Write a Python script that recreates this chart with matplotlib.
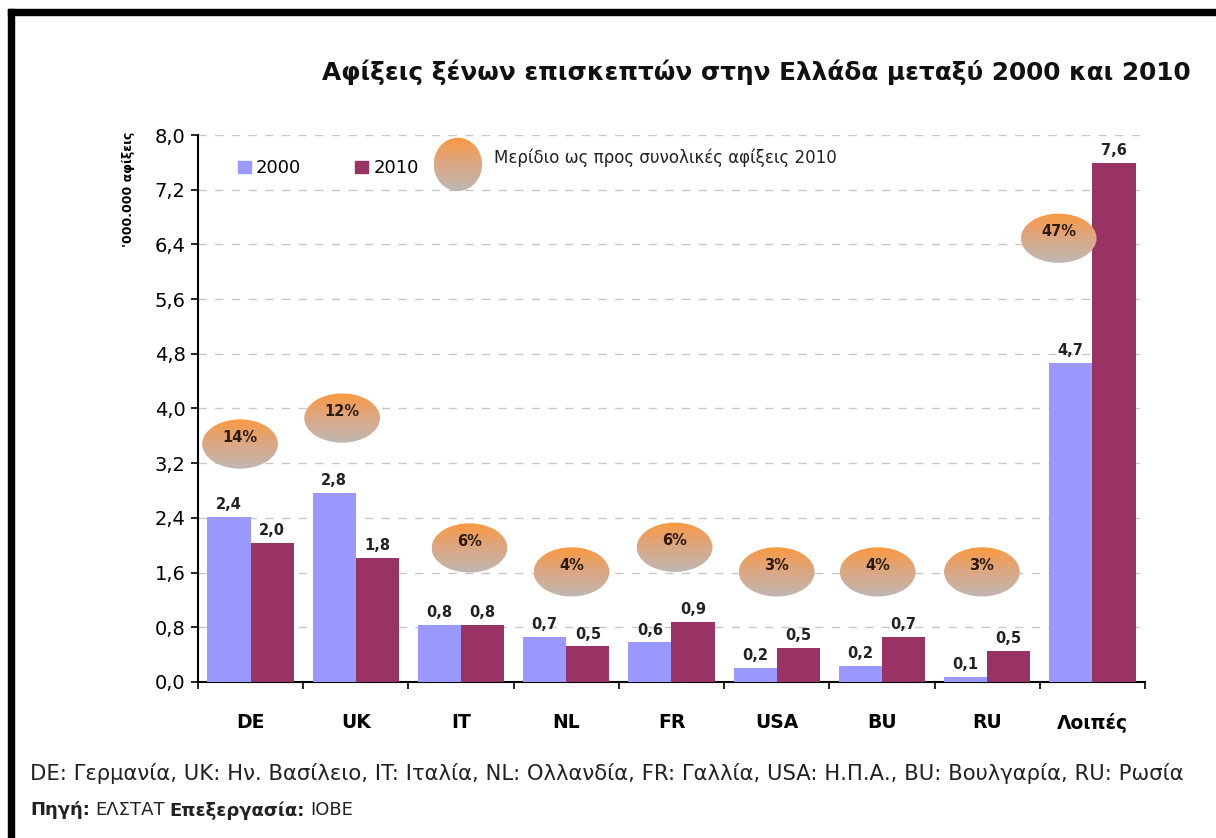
import matplotlib.pyplot as plt
import numpy as np
from matplotlib.patches import Ellipse, Rectangle

# Data
categories = ['DE', 'UK', 'IT', 'NL', 'FR', 'USA', 'BU', 'RU', 'Λοιπές']
arr_2000 = [2.41, 2.76, 0.84, 0.66, 0.58, 0.21, 0.24, 0.07, 4.67]
arr_2010 = [2.03, 1.81, 0.84, 0.52, 0.88, 0.50, 0.66, 0.46, 7.59]
share_2010 = ['14%', '12%', '6%', '4%', '6%', '3%', '4%', '3%', '47%']
# bubble placement (x offset from category centre, height on value axis)
bubble_dx = [-0.10, -0.13, 0.08, 0.05, 0.03, 0.0, -0.04, -0.05, -0.32]
bubble_y = [3.48, 3.86, 1.96, 1.61, 1.97, 1.61, 1.61, 1.61, 6.49]

yticks = [0.0, 0.8, 1.6, 2.4, 3.2, 4.0, 4.8, 5.6, 6.4, 7.2, 8.0]

c2000 = '#9999FF'
c2010 = '#993366'

fig = plt.figure(figsize=(12.16, 8.38), dpi=100)
ax = fig.add_axes([0.1628, 0.1862, 0.7788, 0.6527])

x = np.arange(len(categories))
w = 0.41
b1 = ax.bar(x - w / 2, arr_2000, w, color=c2000, zorder=3)
b2 = ax.bar(x + w / 2, arr_2010, w, color=c2010, zorder=3)

def fmt(v):
    return f'{v:.1f}'.replace('.', ',')

for rect, v in zip(list(b1) + list(b2), arr_2000 + arr_2010):
    ax.text(rect.get_x() + rect.get_width() / 2, v + 0.07, fmt(v),
            ha='center', va='bottom', fontsize=10.5, fontweight='bold',
            color='#222222', zorder=5)

# gradient image used to fill the bubbles (orange top -> grey bottom)
grad = np.linspace(0, 1, 256).reshape(-1, 1)
top = np.array([0.98, 0.60, 0.25])
mid = np.array([0.87, 0.65, 0.50])
bot = np.array([0.75, 0.72, 0.70])
cols = np.where(grad[..., None] < 0.45,
                top + (mid - top) * (grad[..., None] / 0.45),
                mid + (bot - mid) * ((grad[..., None] - 0.45) / 0.55))

def bubble(cx, cy, bw, bh, label=None):
    e = Ellipse((cx, cy), bw, bh, facecolor='none', edgecolor='none', zorder=4)
    ax.add_patch(e)
    im = ax.imshow(cols, extent=[cx - bw / 2, cx + bw / 2, cy - bh / 2, cy + bh / 2],
                   origin='upper', aspect='auto', zorder=4, interpolation='bilinear')
    im.set_clip_path(e)
    if label:
        ax.text(cx, cy + 0.1, label, ha='center', va='center', fontsize=10.5,
                fontweight='bold', color='#2a1a10', zorder=6)

for i, s in enumerate(share_2010):
    bubble(x[i] + bubble_dx[i], bubble_y[i], 0.72, 0.72, s)

# bubble legend
bubble(1.97, 7.57, 0.46, 0.78)
ax.text(2.31, 7.66, 'Μερίδιο ως προς συνολικές αφίξεις 2010', ha='left',
        va='center', fontsize=12, color='#222222', zorder=6)

ax.set_xlim(-0.5, len(categories) - 0.5)
ax.set_ylim(0, 8.0)
ax.set_yticks(yticks)
ax.set_yticklabels([fmt(t) for t in yticks], fontsize=14)
ax.set_xticks(x)
ax.set_xticklabels(categories, fontsize=13.5, fontweight='bold')
ax.set_xticks(np.arange(-0.5, len(categories)), minor=True)
ax.tick_params(axis='x', which='major', length=0, pad=22)
ax.tick_params(axis='x', which='minor', length=5, width=1.2, direction='out')
ax.tick_params(axis='y', length=5, width=1.2, direction='out', pad=4)

for s in ['top', 'right']:
    ax.spines[s].set_visible(False)
ax.spines['left'].set_linewidth(1.5)
ax.spines['bottom'].set_linewidth(1.5)

ax.yaxis.grid(True, linestyle=(0, (6, 6)), color='#c8c8c8', linewidth=1.0, zorder=0)
ax.set_axisbelow(True)

ax.set_ylabel("'000.000 αφίξεις", fontsize=9, fontweight='bold')
ax.yaxis.set_label_coords(-0.066, 0.9)

handles = [Rectangle((0, 0), 1, 1, color=c2000), Rectangle((0, 0), 1, 1, color=c2010)]
ax.legend(handles, ['2000', '2010'], loc='upper left', bbox_to_anchor=(0.025, 0.985),
          ncol=2, frameon=False, fontsize=13, handlelength=0.7, handleheight=0.7,
          handletextpad=0.3, columnspacing=3.0)

fig.text(0.979, 0.914, 'Αφίξεις ξένων επισκεπτών στην Ελλάδα μεταξύ 2000 και 2010',
         ha='right', va='center', fontsize=17.8, fontweight='bold', color='#111111')

fig.text(0.025, 0.077,
         'DE: Γερμανία, UK: Ην. Βασίλειο, IT: Ιταλία, NL: Ολλανδία, FR: Γαλλία, '
         'USA: Η.Π.Α., BU: Βουλγαρία, RU: Ρωσία',
         ha='left', va='center', fontsize=15.2, color='#222222')
t1 = fig.text(0.025, 0.033, 'Πηγή:', ha='left', va='center', fontsize=13,
              fontweight='bold', color='#222222')
fig.canvas.draw()
r = fig.canvas.get_renderer()
xpos = t1.get_window_extent(r).x1 / fig.bbox.width
t2 = fig.text(xpos + 0.004, 0.033, 'ΕΛΣΤΑΤ', ha='left', va='center', fontsize=13,
              color='#222222')
xpos = t2.get_window_extent(r).x1 / fig.bbox.width
t3 = fig.text(xpos + 0.004, 0.033, 'Επεξεργασία:', ha='left', va='center',
              fontsize=13, fontweight='bold', color='#222222')
xpos = t3.get_window_extent(r).x1 / fig.bbox.width
fig.text(xpos + 0.004, 0.033, 'ΙΟΒΕ', ha='left', va='center', fontsize=13,
         color='#222222')

# black frame on top and left
fig.add_artist(Rectangle((8 / 1216, 1 - 15 / 838), 1, 6 / 838, color='black',
                         transform=fig.transFigure))
fig.add_artist(Rectangle((8 / 1216, 0), 6 / 1216, 1 - 9 / 838, color='black',
                         transform=fig.transFigure))

fig.savefig('out.png', dpi=100)
